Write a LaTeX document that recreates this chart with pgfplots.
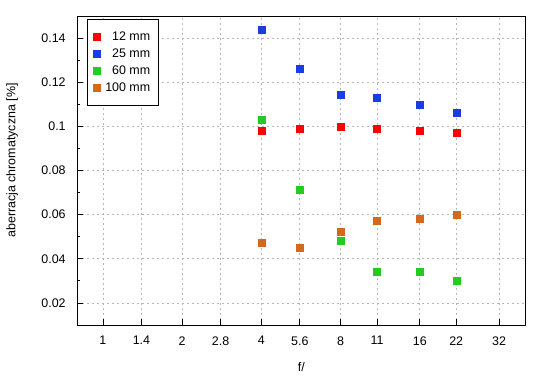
\documentclass[border=0pt]{standalone}
\usepackage{pgfplots}
\pgfplotsset{compat=1.18}
\usepackage{fontspec}
\setmainfont{Liberation Sans}
\definecolor{cred}{RGB}{255,0,0}
\definecolor{cblue}{RGB}{26,60,230}
\definecolor{cgreen}{RGB}{34,204,34}
\definecolor{corange}{RGB}{210,105,30}
\begin{document}
\fontsize{12.5}{15}\selectfont
\begin{tikzpicture}[font=\fontsize{12.5}{15}\selectfont]
\path[use as bounding box] (-77bp,-55bp) rectangle (473bp,325bp);
\begin{axis}[
  at={(0,0)}, anchor=south west,
  scale only axis, width=448.7bp, height=309bp,
  every tick label/.append style={font=\fontsize{12.5}{15}\selectfont},
  label style={font=\fontsize{12.5}{15}\selectfont},
  xmode=log, log basis x=2,
  xmin=0.797, xmax=40.4, ymin=0.01, ymax=0.15,
  xtick={1,1.4,2,2.8,4,5.6,8,11,16,22,32},
  xticklabels={1,1.4,2,2.8,4,5.6,8,11,16,22,32},
  minor xtick={},
  ytick={0.02,0.04,0.06,0.08,0.1,0.12,0.14},
  yticklabels={0.02,0.04,0.06,0.08,0.1,0.12,0.14},
  minor ytick={0.03,0.05,0.07,0.09,0.11,0.13},
  xtick pos=lower, ytick pos=left,
  tick align=inside,
  major tick length=6bp, minor tick length=3.5bp,
  tick style={black, line width=0.8bp},
  axis line style={line width=0.9bp},
  grid=major,
  major grid style={dash pattern=on 2bp off 3bp, color=black!28, line width=0.8bp},
  xticklabel style={yshift=-7bp},
  yticklabel style={xshift=-7bp},
  xlabel={f/}, ylabel={aberracja chromatyczna [\%]},
  xlabel style={yshift=-9bp},
  ylabel style={yshift=15bp, xshift=10bp},
  legend cell align=right,
  legend style={at={(0.022,0.99)}, anchor=north west, draw=black, line width=0.8bp,
    font=\fontsize{12.5}{15}\selectfont, row sep=2.5bp, inner xsep=6bp, inner ysep=10bp,
    /tikz/every odd column/.append style={column sep=3bp}},
  every axis plot/.append style={only marks, mark=square*, mark size=3.5bp},
]
\addplot[cred, mark options={fill=cred, draw=cred}] coordinates {
  (4,0.098) (5.6,0.0988) (8,0.1) (11,0.0988) (16,0.098) (22,0.097)};
\addlegendentry{12 mm}
\addplot[cblue, mark options={fill=cblue, draw=cblue}] coordinates {
  (4,0.144) (5.6,0.126) (8,0.1142) (11,0.1128) (16,0.110) (22,0.106)};
\addlegendentry{25 mm}
\addplot[cgreen, mark options={fill=cgreen, draw=cgreen}] coordinates {
  (4,0.1029) (5.6,0.0712) (8,0.0481) (11,0.034) (16,0.034) (22,0.030)};
\addlegendentry{60 mm}
\addplot[corange, mark options={fill=corange, draw=corange}] coordinates {
  (4,0.0472) (5.6,0.0449) (8,0.0523) (11,0.0571) (16,0.058) (22,0.0599)};
\addlegendentry{100 mm}
\end{axis}
\end{tikzpicture}
\end{document}
